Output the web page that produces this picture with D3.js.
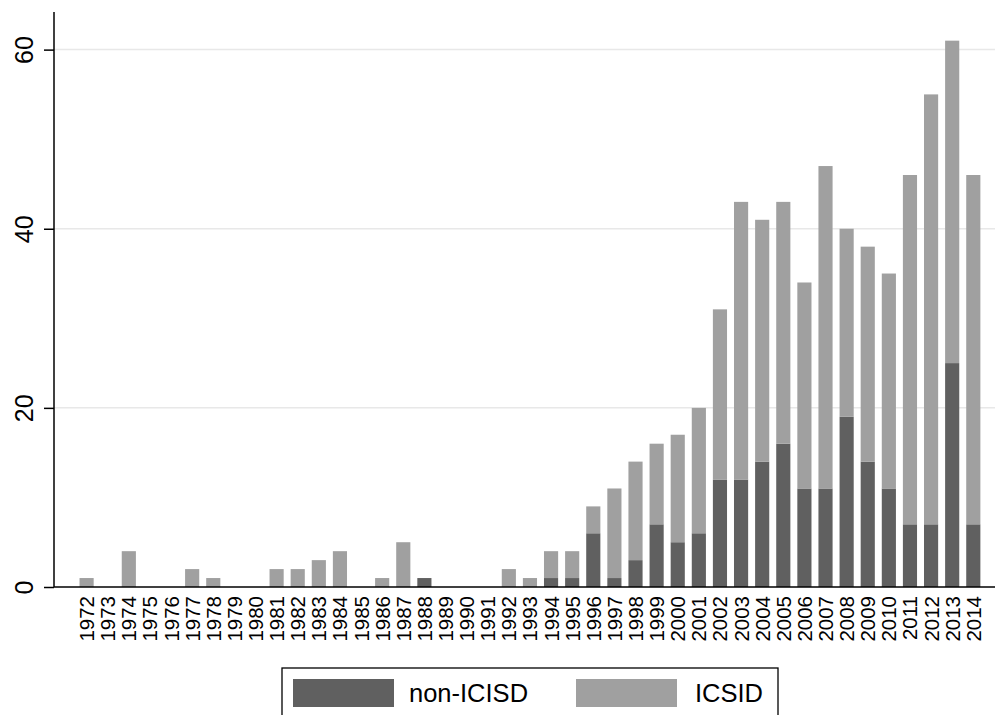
<!DOCTYPE html>
<html>
<head>
<meta charset="utf-8">
<script src="https://cdn.jsdelivr.net/npm/d3@7"></script>
<style>
  html, body { margin: 0; padding: 0; background: #fff; }
  svg { display: block; font-family: "Liberation Sans", Arial, Helvetica, sans-serif; }
</style>
</head>
<body>
<svg id="chart" width="995" height="715"></svg>
<script>
const years = ["1972","1973","1974","1975","1976","1977","1978","1979","1980","1981","1982","1983","1984","1985","1986","1987","1988","1989","1990","1991","1992","1993","1994","1995","1996","1997","1998","1999","2000","2001","2002","2003","2004","2005","2006","2007","2008","2009","2010","2011","2012","2013","2014"];
const nonICSID = [0,0,0,0,0,0,0,0,0,0,0,0,0,0,0,0,1,0,0,0,0,0,1,1,6,1,3,7,5,6,12,12,14,16,11,11,19,14,11,7,7,25,7];
const ICSID    = [1,0,4,0,0,2,1,0,0,2,2,3,4,0,1,5,0,0,0,0,2,1,3,3,3,10,11,9,12,14,19,31,27,27,23,36,21,24,24,39,48,36,39];
const yTicks = [0, 20, 40, 60];
const seriesNames = ["non-ICISD", "ICSID"];
const seriesColors = ["#606060", "#a0a0a0"];

const svg = d3.select("#chart");
const x0 = 54, x1 = 995, yBase = 587, yTop = 12;

const step = 20.95;
const x = d3.scaleBand()
  .domain(years)
  .range([90 - step / 2, 90 - step / 2 + step * years.length])
  .paddingInner(0.33)
  .paddingOuter(0);

const y = d3.scaleLinear().domain([0, 64.2]).range([yBase, yTop]);

// gridlines
svg.append("g").selectAll("line")
  .data(yTicks.filter(d => d > 0))
  .join("line")
  .attr("x1", x0).attr("x2", x1)
  .attr("y1", d => y(d)).attr("y2", d => y(d))
  .attr("stroke", "#e8e8e8").attr("stroke-width", 1.5);

// stacked data
const table = years.map((yr, i) => ({ year: yr, non: nonICSID[i], icsid: ICSID[i] }));
const stack = d3.stack().keys(["non", "icsid"])(table);

svg.append("g").selectAll("g")
  .data(stack)
  .join("g")
  .attr("fill", (d, i) => seriesColors[i])
  .selectAll("rect")
  .data(d => d.filter(p => p[1] - p[0] > 0))
  .join("rect")
  .attr("x", d => x(d.data.year))
  .attr("width", x.bandwidth())
  .attr("y", d => y(d[1]))
  .attr("height", d => y(d[0]) - y(d[1]));

// y axis
const yAxis = d3.axisLeft(y).tickValues(yTicks).tickSize(10).tickPadding(0).tickFormat(d3.format("d"));
const gy = svg.append("g").attr("transform", `translate(${x0},0)`).call(yAxis);
gy.select(".domain").remove();
gy.selectAll(".tick line").attr("stroke", "#000").attr("stroke-width", 1.5);
gy.selectAll(".tick text")
  .attr("x", null).attr("dy", null)
  .attr("text-anchor", "middle")
  .attr("transform", `translate(${33 - x0},0) rotate(-90)`)
  .attr("font-size", 25)
  .attr("fill", "#000");
svg.append("line")
  .attr("x1", x0).attr("x2", x0).attr("y1", yTop).attr("y2", yBase)
  .attr("stroke", "#000").attr("stroke-width", 1.5);

// x axis
const xAxis = d3.axisBottom(x).tickSize(0).tickPadding(0);
const gx = svg.append("g").attr("transform", `translate(0,${yBase})`).call(xAxis);
gx.select(".domain").remove();
gx.selectAll(".tick text")
  .attr("y", null).attr("dy", null)
  .attr("text-anchor", "end")
  .attr("transform", "translate(7.5,9) rotate(-90)")
  .attr("font-size", 20.5)
  .attr("fill", "#000");
svg.append("line")
  .attr("x1", x0).attr("x2", x1).attr("y1", yBase).attr("y2", yBase)
  .attr("stroke", "#000").attr("stroke-width", 1.5);

// legend
const lg = svg.append("g");
lg.append("rect")
  .attr("x", 282).attr("y", 668).attr("width", 496).attr("height", 60)
  .attr("fill", "#fff").attr("stroke", "#000").attr("stroke-width", 1.3);
const legendItems = [
  { sx: 293, tx: 409 },
  { sx: 576, tx: 695 }
];
legendItems.forEach((it, i) => {
  lg.append("rect").attr("x", it.sx).attr("y", 679).attr("width", 101).attr("height", 28)
    .attr("fill", seriesColors[i]);
  lg.append("text").attr("x", it.tx).attr("y", 702)
    .attr("font-size", 25.5).attr("fill", "#000")
    .text(seriesNames[i]);
});
</script>
</body>
</html>
